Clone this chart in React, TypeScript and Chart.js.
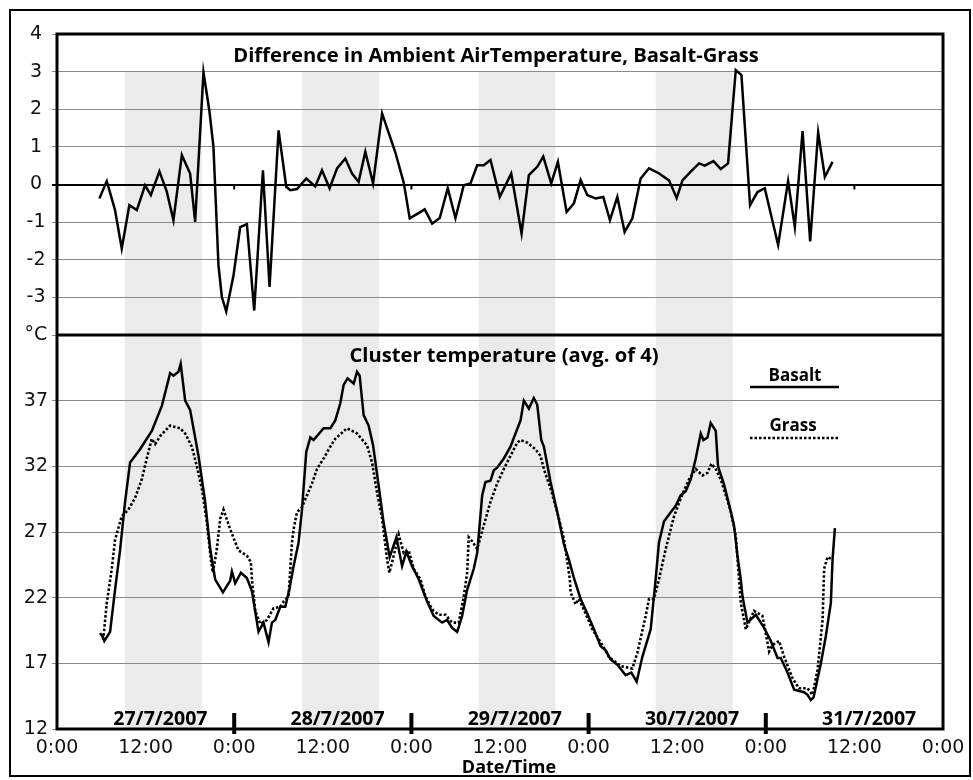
import React, { useEffect, useRef } from 'react';
import { Chart, registerables } from 'chart.js';

Chart.register(...registerables);

// ---- data (hours since 27/7/2007 0:00) ----
const diffHours = [5.74, 6.74, 7.86, 8.77, 9.8, 10.81, 11.93, 12.71, 13.87, 14.87, 15.77, 16.91, 18.03, 18.71, 19.84, 20.65, 21.19, 21.87, 22.33, 22.92, 23.91, 24.81, 25.72, 26.71, 27.89, 28.79, 30.01, 31.05, 31.59, 32.5, 33.76, 34.98, 35.89, 36.92, 37.93, 39.05, 39.96, 40.85, 41.76, 42.81, 44.03, 45.83, 46.96, 47.77, 48.8, 49.8, 50.81, 51.84, 52.92, 53.97, 55.09, 56.0, 56.91, 57.8, 58.71, 59.97, 61.52, 62.92, 63.91, 65.04, 65.86, 66.94, 67.84, 69.02, 70.01, 70.92, 71.82, 72.95, 73.99, 74.89, 75.89, 76.88, 77.93, 79.05, 80.18, 81.5, 82.89, 83.93, 84.71, 85.83, 86.96, 87.73, 88.91, 89.9, 90.89, 91.93, 92.7, 93.87, 94.87, 95.86, 97.67, 99.02, 99.93, 100.98, 102.01, 103.09, 104.0, 105.04];
const diffValues = [-0.37, 0.09, -0.68, -1.7, -0.55, -0.68, -0.02, -0.28, 0.35, -0.19, -0.95, 0.78, 0.29, -0.99, 2.98, 1.94, 1.0, -2.15, -2.99, -3.37, -2.41, -1.13, -1.05, -3.35, 0.38, -2.72, 1.44, -0.06, -0.15, -0.12, 0.16, -0.05, 0.38, -0.1, 0.43, 0.69, 0.29, 0.07, 0.87, 0.03, 1.89, 0.85, 0.05, -0.9, -0.78, -0.66, -1.04, -0.89, -0.1, -0.89, -0.02, 0.03, 0.51, 0.51, 0.65, -0.33, 0.29, -1.3, 0.25, 0.47, 0.74, 0.03, 0.6, -0.73, -0.5, 0.12, -0.28, -0.37, -0.33, -0.95, -0.33, -1.26, -0.9, 0.16, 0.43, 0.3, 0.11, -0.36, 0.11, 0.34, 0.56, 0.5, 0.62, 0.41, 0.56, 3.04, 2.91, -0.55, -0.2, -0.1, -1.61, 0.09, -1.13, 1.42, -1.51, 1.38, 0.2, 0.6];

const basaltHours = [6.06, 6.41, 7.19, 7.86, 8.54, 9.22, 9.9, 11.25, 12.84, 14.2, 15.32, 15.77, 16.45, 16.75, 17.36, 18.03, 19.16, 20.07, 20.75, 21.42, 22.47, 23.46, 23.69, 24.14, 24.91, 25.72, 26.4, 27.29, 27.97, 28.65, 29.11, 29.56, 30.24, 30.92, 31.5, 32.04, 32.72, 33.18, 33.76, 34.31, 34.75, 36.11, 37.02, 37.69, 38.37, 38.82, 39.36, 40.18, 40.64, 40.99, 41.53, 42.21, 42.81, 43.57, 44.24, 45.06, 45.97, 46.74, 47.32, 48.09, 48.99, 50.13, 51.02, 52.16, 52.84, 53.52, 54.2, 54.87, 55.55, 56.45, 56.91, 57.59, 58.03, 58.71, 59.16, 59.62, 60.52, 61.42, 62.1, 62.78, 63.23, 63.91, 64.58, 65.04, 65.59, 65.94, 66.85, 67.76, 68.65, 69.33, 70.01, 70.92, 71.82, 72.72, 73.63, 74.31, 74.98, 75.89, 77.02, 77.79, 78.51, 79.28, 80.41, 81.08, 81.53, 82.21, 83.12, 83.8, 84.47, 85.15, 85.83, 86.51, 87.19, 87.55, 88.1, 88.54, 89.22, 89.53, 90.35, 91.02, 91.7, 92.16, 92.61, 92.84, 93.52, 94.64, 95.77, 96.68, 97.59, 98.03, 98.94, 99.84, 101.19, 101.65, 102.1, 102.47, 103.46, 104.14, 104.81, 105.04, 105.36];
const basaltValues = [19.2, 18.7, 19.4, 22.6, 25.6, 29.3, 32.3, 33.3, 34.7, 36.6, 39.1, 38.9, 39.2, 39.8, 37.0, 36.3, 32.8, 29.3, 25.7, 23.4, 22.4, 23.3, 24.0, 23.1, 23.9, 23.5, 22.5, 19.4, 20.1, 18.6, 20.1, 20.3, 21.3, 21.3, 22.7, 24.4, 26.2, 28.7, 33.1, 34.2, 34.0, 34.9, 34.9, 35.5, 36.8, 38.2, 38.7, 38.3, 39.2, 38.9, 35.9, 35.1, 33.6, 30.5, 27.7, 25.1, 26.6, 24.4, 25.5, 24.4, 23.4, 21.7, 20.6, 20.1, 20.3, 19.7, 19.4, 20.6, 22.6, 24.2, 25.4, 29.8, 30.8, 30.9, 31.7, 31.9, 32.6, 33.5, 34.5, 35.5, 37.0, 36.4, 37.2, 36.7, 34.0, 33.5, 30.8, 28.5, 26.1, 24.9, 23.5, 21.9, 20.8, 19.6, 18.3, 18.0, 17.3, 16.9, 16.1, 16.3, 15.6, 17.5, 19.6, 23.4, 26.2, 27.8, 28.5, 29.0, 29.8, 30.1, 31.0, 32.6, 34.5, 34.0, 34.2, 35.3, 34.7, 32.0, 30.6, 29.1, 27.5, 25.2, 23.4, 22.1, 20.1, 20.7, 19.7, 18.7, 17.4, 17.4, 16.3, 15.0, 14.8, 14.6, 14.2, 14.4, 17.0, 19.1, 21.6, 24.9, 27.3];

const grassHours = [5.83, 6.28, 6.74, 7.42, 7.86, 8.77, 9.67, 10.58, 11.48, 12.16, 12.84, 13.29, 13.97, 15.32, 16.68, 17.36, 18.26, 18.94, 19.62, 20.3, 20.84, 21.11, 21.65, 22.1, 22.55, 23.46, 24.58, 25.72, 26.26, 26.4, 26.85, 27.53, 28.43, 29.33, 30.24, 30.69, 31.36, 31.82, 32.04, 32.5, 33.18, 33.86, 34.54, 35.21, 36.11, 37.02, 37.69, 39.28, 40.64, 41.99, 42.67, 43.35, 44.03, 44.71, 45.02, 45.69, 46.28, 46.96, 47.63, 48.31, 49.22, 49.9, 50.81, 51.7, 52.61, 53.52, 54.41, 55.09, 55.55, 55.77, 56.23, 56.91, 57.8, 58.71, 59.62, 60.52, 61.42, 62.33, 62.78, 63.69, 64.81, 65.49, 65.94, 66.85, 67.76, 68.65, 69.46, 69.56, 70.24, 70.69, 71.59, 72.5, 73.86, 74.75, 76.34, 77.93, 78.6, 79.73, 80.18, 80.85, 81.53, 82.44, 83.57, 84.71, 85.6, 86.51, 87.42, 88.1, 88.64, 89.22, 89.9, 90.58, 91.25, 91.93, 92.38, 92.61, 93.29, 94.41, 95.55, 96.45, 96.91, 97.8, 98.48, 99.59, 100.49, 101.65, 102.33, 103.01, 103.69, 103.9, 104.37, 105.04];
const grassValues = [19.3, 18.9, 21.6, 24.2, 26.4, 28.2, 28.7, 29.6, 31.0, 32.6, 34.1, 33.7, 34.3, 35.1, 34.9, 34.5, 33.5, 32.0, 30.3, 27.7, 24.9, 23.9, 25.7, 28.0, 28.7, 27.2, 25.6, 25.2, 24.7, 23.4, 21.0, 20.0, 20.3, 21.2, 21.3, 21.7, 22.1, 26.2, 27.2, 28.5, 28.9, 29.8, 30.7, 31.8, 32.6, 33.5, 34.1, 34.9, 34.5, 33.6, 32.3, 30.0, 28.0, 24.9, 23.9, 25.4, 26.8, 25.4, 25.6, 24.2, 23.4, 22.1, 21.1, 20.7, 20.7, 20.1, 20.1, 22.1, 23.9, 26.6, 26.3, 25.7, 27.5, 29.3, 30.7, 31.8, 32.8, 33.8, 34.0, 33.8, 33.3, 32.8, 31.8, 30.3, 28.5, 26.5, 23.4, 22.4, 21.5, 21.9, 20.8, 19.6, 18.4, 17.5, 16.8, 16.6, 17.8, 20.6, 21.9, 21.9, 23.4, 25.7, 28.2, 29.9, 31.0, 31.8, 31.3, 31.5, 32.2, 31.8, 31.0, 29.8, 28.6, 26.7, 23.4, 21.6, 19.6, 21.0, 20.6, 17.9, 18.4, 18.7, 17.5, 15.9, 15.1, 15.1, 14.6, 16.5, 20.3, 24.2, 25.1, 24.9];

const xTickLabels = ['0:00', '12:00'];
const dateLabels = ['27/7/2007', '28/7/2007', '29/7/2007', '30/7/2007', '31/7/2007'];
const dateLabelHours = [14, 38, 62, 86, 110];
const dayBoundaryHours = [24, 48, 72, 96];
const zeroLineTickHours = [24, 48, 108];
const shadeStartHours = [9.2, 33.2, 57.1, 81.1];
const shadeEndHours = [19.6, 43.6, 67.5, 91.5];
const diffTitle = 'Difference in Ambient AirTemperature, Basalt-Grass';
const tempTitle = 'Cluster temperature (avg. of 4)';
const seriesNames = ['Basalt', 'Grass'];
const xAxisTitle = 'Date/Time';
const unitLabel = '°C';

const BOLD = '"Open Sans", "DejaVu Sans", sans-serif';
const TICK_FONT = { family: '"DejaVu Sans", sans-serif', size: 19 };

const decorPlugin = {
  id: 'decor',
  beforeDraw(chart: any) {
    const { ctx, chartArea, scales } = chart;
    const x = scales.x;
    const yD = scales.yDiff;
    const top = yD.getPixelForValue(3);
    ctx.save();
    ctx.fillStyle = '#ebebeb';
    shadeStartHours.forEach((s, i) => {
      const x0 = x.getPixelForValue(s);
      const x1 = x.getPixelForValue(shadeEndHours[i]);
      ctx.fillRect(x0, top, x1 - x0, chartArea.bottom - top);
    });
    ctx.restore();
  },
  afterDraw(chart: any) {
    const { ctx, chartArea, scales } = chart;
    const x = scales.x;
    const yD = scales.yDiff;
    const { left, right, top, bottom } = chartArea;
    ctx.save();
    ctx.strokeStyle = '#000';
    ctx.fillStyle = '#000';
    // frame
    ctx.lineWidth = 3;
    ctx.strokeRect(left, top, right - left, bottom - top);
    // divider between panels
    const divY = yD.bottom;
    ctx.beginPath();
    ctx.moveTo(left, divY);
    ctx.lineTo(right, divY);
    ctx.stroke();
    // day boundary ticks
    dayBoundaryHours.forEach((h) => {
      const px = x.getPixelForValue(h);
      ctx.fillRect(px - 2, bottom - 16, 4, 21);
    });
    // small ticks on the zero line
    const zy = yD.getPixelForValue(0);
    zeroLineTickHours.forEach((h) => {
      const px = x.getPixelForValue(h);
      ctx.fillRect(px - 1, zy, 2, 5);
    });
    // date labels
    ctx.font = `bold 19.5px ${BOLD}`;
    ctx.textAlign = 'center';
    ctx.textBaseline = 'alphabetic';
    dateLabels.forEach((t, i) => {
      ctx.fillText(t, x.getPixelForValue(dateLabelHours[i]), 725);
    });
    // titles
    ctx.font = `bold 20.2px ${BOLD}`;
    ctx.fillText(diffTitle, 496, 62);
    ctx.fillText(tempTitle, 504, 362);
    // legend
    ctx.font = `bold 17px ${BOLD}`;
    ctx.fillText(seriesNames[0], 795, 381);
    ctx.fillText(seriesNames[1], 793, 431);
    ctx.lineWidth = 2.5;
    ctx.beginPath();
    ctx.moveTo(750, 387);
    ctx.lineTo(839, 387);
    ctx.stroke();
    ctx.setLineDash([2.5, 2]);
    ctx.beginPath();
    ctx.moveTo(750, 438);
    ctx.lineTo(839, 438);
    ctx.stroke();
    ctx.setLineDash([]);
    // x axis title
    ctx.font = `bold 18px ${BOLD}`;
    ctx.fillText(xAxisTitle, 509, 773);
    // outer border
    ctx.lineWidth = 2;
    ctx.strokeRect(10, 10, 960, 766);
    ctx.restore();
  },
};

export default function App() {
  const ref = useRef<HTMLCanvasElement | null>(null);
  useEffect(() => {
    if (!ref.current) return;
    const toXY = (hs: number[], vs: number[]) => hs.map((h, i) => ({ x: h, y: vs[i] }));
    const chart = new Chart(ref.current, {
      type: 'line',
      data: {
        datasets: [
          {
            label: 'Difference',
            data: toXY(diffHours, diffValues),
            yAxisID: 'yDiff',
            borderColor: '#000',
            borderWidth: 2.5,
            pointRadius: 0,
            tension: 0,
            fill: false,
          },
          {
            label: seriesNames[0],
            data: toXY(basaltHours, basaltValues),
            yAxisID: 'yTemp',
            borderColor: '#000',
            borderWidth: 2.5,
            pointRadius: 0,
            tension: 0,
            fill: false,
          },
          {
            label: seriesNames[1],
            data: toXY(grassHours, grassValues),
            yAxisID: 'yTemp',
            borderColor: '#000',
            borderWidth: 2.6,
            borderDash: [2.5, 2],
            pointRadius: 0,
            tension: 0,
            fill: false,
          },
        ],
      },
      options: {
        responsive: false,
        animation: false,
        devicePixelRatio: 1,
        layout: { padding: { left: 15, right: 30, top: 34, bottom: 0 } },
        plugins: { legend: { display: false }, tooltip: { enabled: false } },
        scales: {
          x: {
            type: 'linear',
            position: 'bottom',
            min: 0,
            max: 120,
            grid: { display: false },
            border: { display: false },
            ticks: {
              stepSize: 12,
              autoSkip: false,
              maxRotation: 0,
              padding: 0,
              color: '#111',
              font: TICK_FONT,
              callback: (v: any) => (Number(v) % 24 === 0 ? xTickLabels[0] : xTickLabels[1]),
            },
            afterFit: (s: any) => { s.height = 51; },
          },
          yDiff: {
            type: 'linear',
            position: 'left',
            stack: 'panels',
            stackWeight: 301,
            weight: 1,
            min: -4,
            max: 4,
            border: { display: false },
            grid: {
              color: (c: any) => (c.tick && c.tick.value === 0 ? '#000' : '#8a8a8a'),
              lineWidth: (c: any) => (c.tick && c.tick.value === 0 ? 2 : 1),
              tickLength: 5,
            },
            ticks: {
              stepSize: 1,
              autoSkip: false,
              padding: 6.5,
              crossAlign: 'center',
              color: '#111',
              font: TICK_FONT,
              callback: (v: any) => (Number(v) === -4 ? '' : String(v)),
            },
            afterFit: (s: any) => { s.width = 42; },
          },
          yTemp: {
            type: 'linear',
            position: 'left',
            stack: 'panels',
            stackWeight: 394,
            weight: 0,
            min: 12,
            max: 42,
            border: { display: false },
            grid: { color: '#8a8a8a', lineWidth: 1, tickLength: 5 },
            ticks: {
              stepSize: 5,
              autoSkip: false,
              padding: 4,
              crossAlign: 'center',
              color: '#111',
              font: TICK_FONT,
              callback: (v: any) => (Number(v) === 42 ? unitLabel : String(v)),
            },
            afterFit: (s: any) => { s.width = 42; },
          },
        },
      } as any,
      plugins: [decorPlugin],
    });
    return () => chart.destroy();
  }, []);
  return (
    <div style={{ position: 'absolute', left: 0, top: 0, width: 973, height: 780, background: '#fff' }}>
      <canvas ref={ref} width={973} height={780} style={{ display: 'block' }} />
    </div>
  );
}
